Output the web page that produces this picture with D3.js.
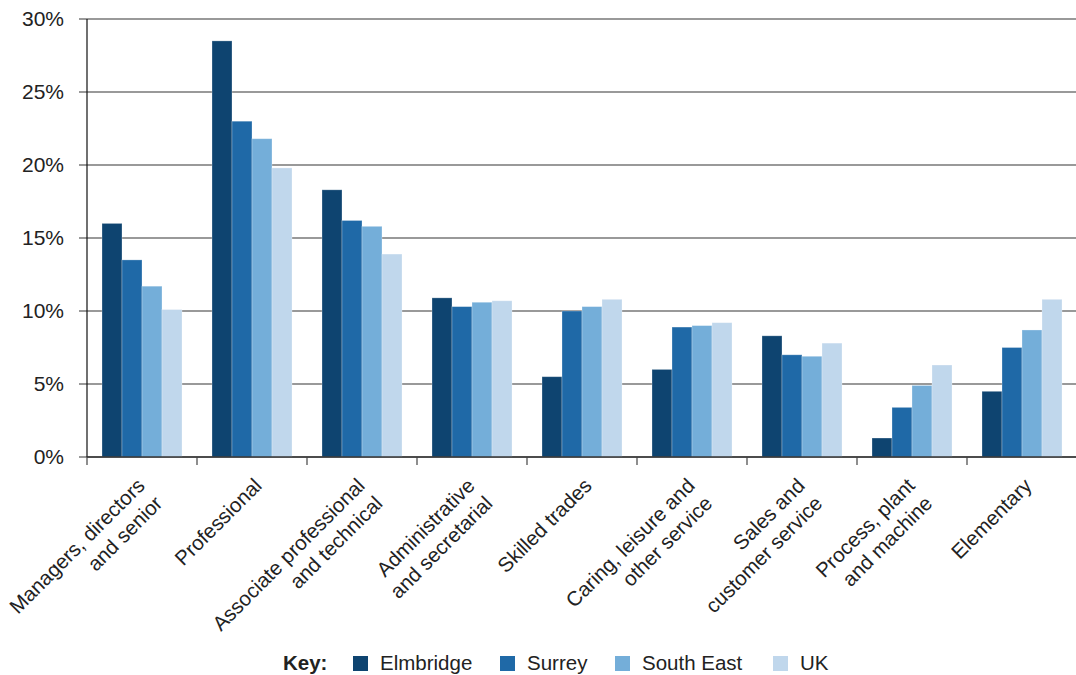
<!DOCTYPE html>
<html><head><meta charset="utf-8">
<script src="https://cdn.jsdelivr.net/npm/d3@7"></script>
<style>body{margin:0;background:#fff}svg{display:block}text{font-family:"Liberation Sans",Arial,sans-serif;fill:#222}</style>
</head><body><svg id="c" width="1076" height="675"></svg>
<script>
const categories = [
  ["Managers, directors","and senior"],
  ["Professional"],
  ["Associate professional","and technical"],
  ["Administrative","and secretarial"],
  ["Skilled trades"],
  ["Caring, leisure and","other service"],
  ["Sales and","customer service"],
  ["Process, plant","and machine"],
  ["Elementary"]
];
const seriesNames = ["Elmbridge","Surrey","South East","UK"];
const colors = ["#0e4470","#1f69a7","#74aed9","#c0d7ec"];
const elmbridge = [16.0,28.5,18.3,10.9,5.5,6.0,8.3,1.3,4.5];
const surrey    = [13.5,23.0,16.2,10.3,10.0,8.9,7.0,3.4,7.5];
const southEast = [11.7,21.8,15.8,10.6,10.3,9.0,6.9,4.9,8.7];
const uk        = [10.1,19.8,13.9,10.7,10.8,9.2,7.8,6.3,10.8];
const yTicks = [0,5,10,15,20,25,30];

const series = [elmbridge, surrey, southEast, uk];
const svg = d3.select("#c");
const mLeft = 87, mRight = 1077, mTop = 19, mBottom = 457;
const fs = 20.5;

const x0 = d3.scaleBand().domain(d3.range(categories.length)).range([mLeft, mRight]);
const x1 = d3.scaleBand().domain(d3.range(seriesNames.length)).range([15, 95]);
const y = d3.scaleLinear().domain([0,30]).range([mBottom, mTop]);

// gridlines + y ticks
svg.append("g").selectAll("line").data(yTicks).join("line")
  .attr("x1", mLeft-8).attr("x2", 1076)
  .attr("y1", d=>y(d)).attr("y2", d=>y(d))
  .attr("stroke", "#777").attr("stroke-width", 1.5);

// y labels
svg.append("g").selectAll("text").data(yTicks).join("text")
  .attr("x", 64).attr("y", d=>y(d)).attr("dy","0.35em")
  .attr("text-anchor","end").attr("font-size",21)
  .text(d=>d+"%");

// bars
const bars = [];
categories.forEach((c,i)=>series.forEach((s,j)=>bars.push({i,j,v:s[i]})));
svg.append("g").selectAll("rect").data(bars).join("rect")
  .attr("x", d=>x0(d.i)+x1(d.j))
  .attr("width", x1.bandwidth())
  .attr("y", d=>y(d.v))
  .attr("height", d=>y(0)-y(d.v))
  .attr("fill", d=>colors[d.j])
  .attr("stroke","rgba(255,255,255,0.35)").attr("stroke-width",0.8);

// axes lines
svg.append("line").attr("x1",mLeft).attr("x2",mLeft).attr("y1",mTop).attr("y2",mBottom)
  .attr("stroke","#111").attr("stroke-width",1.2);
svg.append("line").attr("x1",mLeft).attr("x2",1076).attr("y1",mBottom).attr("y2",mBottom)
  .attr("stroke","#333").attr("stroke-width",1.6);
svg.append("g").selectAll("line").data(d3.range(categories.length)).join("line")
  .attr("x1",d=>x0(d)).attr("x2",d=>x0(d))
  .attr("y1",mBottom).attr("y2",mBottom+8)
  .attr("stroke","#444").attr("stroke-width",1.2);

// x labels (right-aligned lines, rotated -45)
const lh = 25;
categories.forEach((lines,i)=>{
  const cx = x0(i)+x0.bandwidth()/2 + (lines.length===1 ? 11 : 4);
  const g = svg.append("g").attr("transform",`translate(${cx},487) rotate(-45)`);
  lines.forEach((l,k)=>g.append("text").attr("font-size",fs).attr("text-anchor","end")
     .attr("x",0).attr("y",k*lh).text(l));
});

// legend
svg.append("text").attr("x",283).attr("y",663).attr("dy","0.35em")
  .attr("font-size",fs).attr("font-weight","bold").text("Key:");
const legX = [353,500,615,773];
seriesNames.forEach((n,j)=>{
  svg.append("rect").attr("x",legX[j]).attr("y",656).attr("width",15).attr("height",15).attr("fill",colors[j]);
  svg.append("text").attr("x",legX[j]+27).attr("y",663).attr("dy","0.35em").attr("font-size",fs).text(n);
});
</script></body></html>
